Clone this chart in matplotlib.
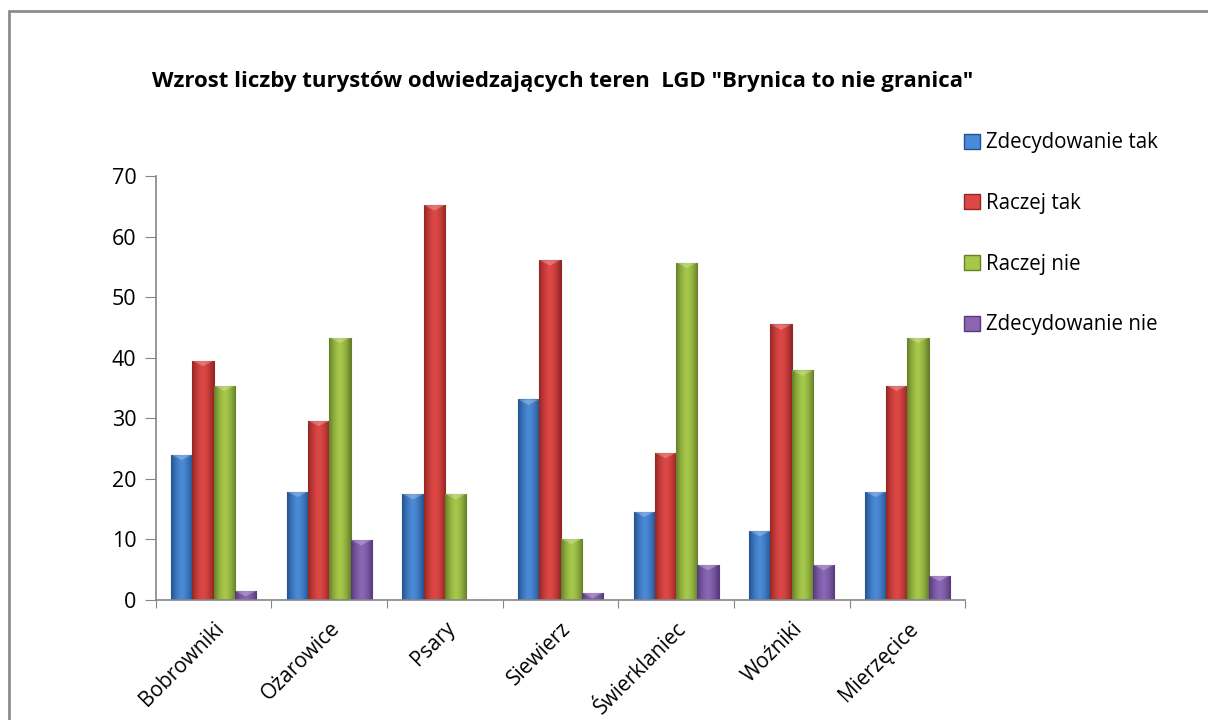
import matplotlib.pyplot as plt
import numpy as np
from matplotlib.patches import Rectangle, Patch

gminy = ["Bobrowniki", "Ożarowice", "Psary", "Siewierz", "Świerklaniec", "Woźniki", "Mierzęcice"]
serie = ["Zdecydowanie tak", "Raczej tak", "Raczej nie", "Zdecydowanie nie"]
zdecydowanie_tak = [24.0, 17.9, 17.5, 33.1, 14.6, 11.4, 17.9]
raczej_tak = [39.5, 29.6, 65.2, 56.1, 24.3, 45.5, 35.4]
raczej_nie = [35.4, 43.3, 17.5, 10.1, 55.7, 37.9, 43.3]
zdecydowanie_nie = [1.5, 9.9, 0.0, 1.2, 5.8, 5.8, 4.0]

# (dark edge, middle) colours for the shaded bars
kolory = [("#24528f", "#4a8ad6"), ("#952624", "#dc4846"),
          ("#66802a", "#a6c84a"), ("#563a7a", "#8a66b4")]

plt.rcParams['font.family'] = ['Open Sans', 'DejaVu Sans']

fig = plt.figure(figsize=(12.08, 7.2), dpi=100)
fig.patches.append(Rectangle((9 / 1208, -0.1), 1.2, 1 - 11 / 720 + 0.1, transform=fig.transFigure,
                             fill=False, edgecolor="#8c8c8c", linewidth=2))
ax = fig.add_axes([0.129, 0.1667, 0.67, 0.5889])

x = np.arange(len(gminy))
w = 0.184
wszystkie = [zdecydowanie_tak, raczej_tak, raczej_nie, zdecydowanie_nie]
for i, vals in enumerate(wszystkie):
    dark, mid = kolory[i]
    bars = ax.bar(x + (i - 1.5) * w, vals, w, color=mid, edgecolor=dark, linewidth=0.8, zorder=2)
    # horizontal gradient so the bars look rounded
    c1 = np.array(plt.matplotlib.colors.to_rgb(dark))
    c2 = np.array(plt.matplotlib.colors.to_rgb(mid))
    t = np.abs(np.linspace(-1, 1, 40)) ** 1.6
    grad = (c2[None, :] * (1 - t[:, None]) + c1[None, :] * t[:, None])[None, :, :]
    for b in bars:
        if b.get_height() <= 0:
            continue
        x0, h = b.get_x(), b.get_height()
        im = ax.imshow(grad, extent=(x0, x0 + w, 0, h), aspect='auto', zorder=2.1)
        im.set_clip_path(b)
        # small bevel triangle at the top
        bh = min(0.9, h)
        ax.fill([x0, x0 + w, x0 + w / 2], [h, h, h - bh], color="white", alpha=0.25,
                zorder=2.2, linewidth=0)

ax.set_xlim(-0.5, len(gminy) - 0.5)
ax.set_ylim(0, 70)
ax.set_yticks(range(0, 71, 10))
ax.set_xticks(np.arange(len(gminy) + 1) - 0.5)
ax.set_xticklabels([])
ax.set_xticks(x, minor=True)
ax.set_xticklabels(gminy, minor=True, rotation=45, ha='right', rotation_mode='anchor', fontsize=15)
ax.tick_params(axis='x', which='minor', length=0, pad=13)
ax.tick_params(axis='x', which='major', length=6, color="#868686", direction='out')
ax.tick_params(axis='y', length=8, color="#868686", labelsize=15.5, pad=6)
for s in ["top", "right"]:
    ax.spines[s].set_visible(False)
for s in ["left", "bottom"]:
    ax.spines[s].set_color("#868686")
    ax.spines[s].set_linewidth(1.2)

fig.text(0.466, 0.887, 'Wzrost liczby turystów odwiedzających teren  LGD "Brynica to nie granica"',
         ha='center', va='center', fontsize=16, fontweight='bold')

handles = [Patch(facecolor=m, edgecolor=d) for d, m in kolory]
fig.legend(handles, serie, loc='upper left', bbox_to_anchor=(0.783, 0.842), frameon=False,
           fontsize=14.8, labelspacing=1.93, handlelength=0.75, handleheight=0.75, handletextpad=0.3)

fig.savefig("out.png", dpi=100)
